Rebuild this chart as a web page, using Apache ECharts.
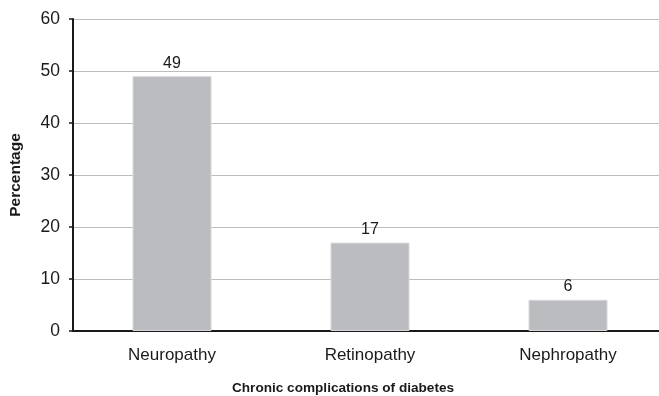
<!DOCTYPE html>
<html>
<head>
<meta charset="utf-8">
<script src="https://cdn.jsdelivr.net/npm/echarts@6/dist/echarts.min.js"></script>
<style>
  html, body { margin: 0; padding: 0; background: #fff; }
  #frame { width: 659px; height: 396px; overflow: hidden; position: relative; }
  /* the plot runs a few pixels past the right edge of the frame */
  #chart { width: 667px; height: 396px; position: absolute; left: 0; top: 0; }
</style>
</head>
<body>
<div id="frame"><div id="chart"></div></div>
<script>
// Chronic complications of diabetes (percentage of patients)
const categories = ['Neuropathy', 'Retinopathy', 'Nephropathy'];
const percentages = [49, 17, 6];

const font = 'Liberation Sans';
const ink = '#1a1a1a';

const chart = echarts.init(document.getElementById('chart'));
chart.setOption({
  animation: false,
  grid: { left: 73, right: 0, top: 19, bottom: 65, containLabel: false, outerBoundsMode: 'none' },
  xAxis: {
    type: 'category',
    data: categories,
    name: 'Chronic complications of diabetes',
    nameLocation: 'middle',
    nameGap: 50,
    nameTextStyle: { fontFamily: font, fontSize: 13.6, fontWeight: 'bold', color: ink, padding: [0, 54, 0, 0] },
    axisLine: { lineStyle: { color: ink, width: 2 } },
    axisTick: { show: false },
    axisLabel: { fontFamily: font, fontSize: 17, color: ink, margin: 16 }
  },
  yAxis: {
    type: 'value',
    min: 0, max: 60, interval: 10,
    name: 'Percentage',
    nameLocation: 'middle',
    nameGap: 49,
    nameTextStyle: { fontFamily: font, fontSize: 15.5, fontWeight: 'bold', color: ink },
    axisLine: { show: true, lineStyle: { color: ink, width: 2 } },
    axisTick: { show: true, length: 4, lineStyle: { color: ink, width: 1.5 } },
    axisLabel: { fontFamily: font, fontSize: 17.5, color: ink, margin: 13 },
    splitLine: { lineStyle: { color: '#bdbdbd', width: 1 } }
  },
  series: [{
    type: 'bar',
    data: percentages,
    barWidth: 79,
    itemStyle: { color: '#bbbcbf', borderColor: '#d6d7d9', borderWidth: 1 },
    label: {
      show: true, position: 'top', distance: 5,
      fontFamily: font, fontSize: 16, color: ink
    }
  }]
});
</script>
</body>
</html>
